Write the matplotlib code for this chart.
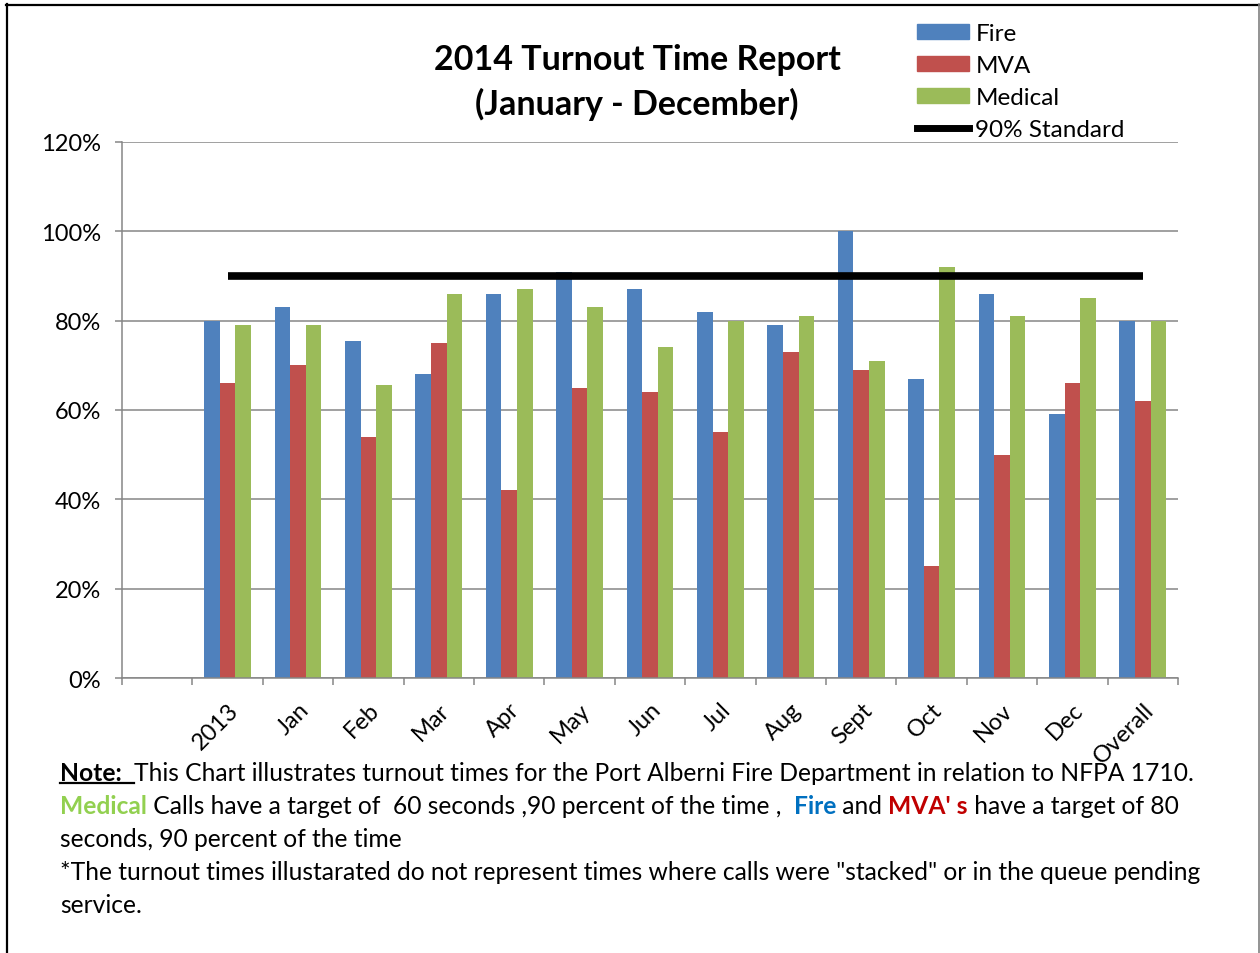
import numpy as np
import matplotlib
matplotlib.use("Agg")
import matplotlib.pyplot as plt
from matplotlib.lines import Line2D
from matplotlib.patches import Patch
from matplotlib.transforms import IdentityTransform

plt.rcParams['font.family'] = ['Lato', 'DejaVu Sans']

# ---------------- data ----------------
categories = ["", "2013", "Jan", "Feb", "Mar", "Apr", "May", "Jun", "Jul",
              "Aug", "Sept", "Oct", "Nov", "Dec", "Overall"]
fire = [np.nan, 80, 83, 75.5, 68, 86, 91, 87, 82, 79, 100, 67, 86, 59, 80]
mva = [np.nan, 66, 70, 54, 75, 42, 65, 64, 55, 73, 69, 25, 50, 66, 62]
medical = [np.nan, 79, 79, 65.5, 86, 87, 83, 74, 80, 81, 71, 92, 81, 85, 80]
standard = [np.nan, 90, 90, 90, 90, 90, 90, 90, 90, 90, 90, 90, 90, 90, 90]
yticks = [0, 20, 40, 60, 80, 100, 120]

C_FIRE, C_MVA, C_MED = '#4F81BD', '#C0504D', '#9BBB59'
GRID = '#868686'

W, H = 1260, 954
fig = plt.figure(figsize=(W / 100, H / 100), dpi=100)

# ---------------- chart ----------------
ax = fig.add_axes([122 / W, (H - 679) / H, (1178 - 122) / W, (679 - 143) / H])
x = np.arange(len(categories))
bw = 0.222
ax.bar(x - bw, fire, bw, color=C_FIRE, zorder=2)
ax.bar(x, mva, bw, color=C_MVA, zorder=2)
ax.bar(x + bw, medical, bw, color=C_MED, zorder=2)
ax.plot(x, standard, color='black', lw=5.5, solid_capstyle='butt', zorder=3)

ax.set_xlim(-0.5, len(categories) - 0.5)
ax.set_ylim(0, 120)
ax.set_yticks(yticks)
ax.set_yticklabels([f"{v}%" for v in yticks], fontsize=17)
ax.set_xticks(x)
ax.set_xticklabels(categories, fontsize=17, rotation=45, ha='right', va='top',
                   rotation_mode='anchor')
ax.tick_params(axis='x', which='major', length=0, pad=15)
ax.set_xticks(np.arange(-0.5, len(categories), 1), minor=True)
ax.tick_params(axis='x', which='minor', length=5, width=1.1, color=GRID)
ax.tick_params(axis='y', length=5, width=1.1, color=GRID, pad=10)

ax.yaxis.grid(True, color=GRID, lw=1.1)
ax.set_axisbelow(True)
for s in ['top', 'right']:
    ax.spines[s].set_visible(False)
for s in ['left', 'bottom']:
    ax.spines[s].set_color(GRID)
    ax.spines[s].set_linewidth(1.1)

# legend
handles = [Patch(color=C_FIRE, label='Fire'),
           Patch(color=C_MVA, label='MVA'),
           Patch(color=C_MED, label='Medical'),
           Line2D([], [], color='black', lw=5, label='90% Standard')]
ax.legend(handles=handles, loc='upper left', bbox_to_anchor=(917 / W, 1 - 24 / H),
          bbox_transform=fig.transFigure, frameon=False, fontsize=17.5,
          handlelength=2.15, handleheight=0.58, labelspacing=0.45,
          handletextpad=0.25, borderpad=0, borderaxespad=0)

# title
fig.text(637 / W, 1 - 60 / H, "2014 Turnout Time Report", ha='center', va='center',
         fontsize=24.5, fontweight='bold')
fig.text(637 / W, 1 - 104 / H, "(January - December)", ha='center', va='center',
         fontsize=24.5, fontweight='bold')

# ---------------- note text ----------------
renderer = fig.canvas.get_renderer()
ident = IdentityTransform()


def seg_width(txt, **kw):
    a = fig.text(0, 0, txt + "|", transform=ident, **kw)
    b = fig.text(0, 0, "|", transform=ident, **kw)
    w = a.get_window_extent(renderer).width - b.get_window_extent(renderer).width
    a.remove()
    b.remove()
    return w


def rich_line(x0, y_img, parts, size=17.7):
    xx = x0
    for txt, color, bold, underline in parts:
        kw = dict(fontsize=size, color=color, fontweight='bold' if bold else 'normal')
        fig.text(xx, H - y_img, txt, transform=ident, ha='left', va='baseline', **kw)
        w = seg_width(txt, **kw)
        if underline:
            fig.add_artist(Line2D([xx, xx + w], [H - y_img - 3, H - y_img - 3],
                                  transform=ident, color=color, lw=1.6))
        xx += w


K = 'black'
rich_line(60, 781, [("Note:  ", K, True, True),
                    ("This Chart illustrates turnout times for the Port Alberni Fire "
                     "Department in relation to NFPA 1710.", K, False, False)])
rich_line(60, 814, [("Medical", '#92D050', True, False),
                    (" Calls have a target of  60 seconds ,90 percent of the time ,  ", K, False, False),
                    ("Fire", '#0070C0', True, False),
                    (" and ", K, False, False),
                    ("MVA' s", '#C00000', True, False),
                    (" have a target of 80", K, False, False)])
rich_line(60, 847, [("seconds, 90 percent of the time", K, False, False)])
rich_line(60, 880, [("*The turnout times illustarated do not represent times where calls "
                     "were \"stacked\" or in the queue pending", K, False, False)])
rich_line(60, 913, [("service.", K, False, False)])

# figure border
fig.add_artist(Line2D([7, 7], [-5, H - 5], transform=ident, color='black', lw=1.6))
fig.add_artist(Line2D([6, W - 1], [H - 5.5, H - 5.5], transform=ident, color='black', lw=1.6))
fig.add_artist(Line2D([W - 1.5, W - 1.5], [-5, H - 5], transform=ident, color='#808080', lw=1.2))

fig.savefig('out.png', dpi=100)
